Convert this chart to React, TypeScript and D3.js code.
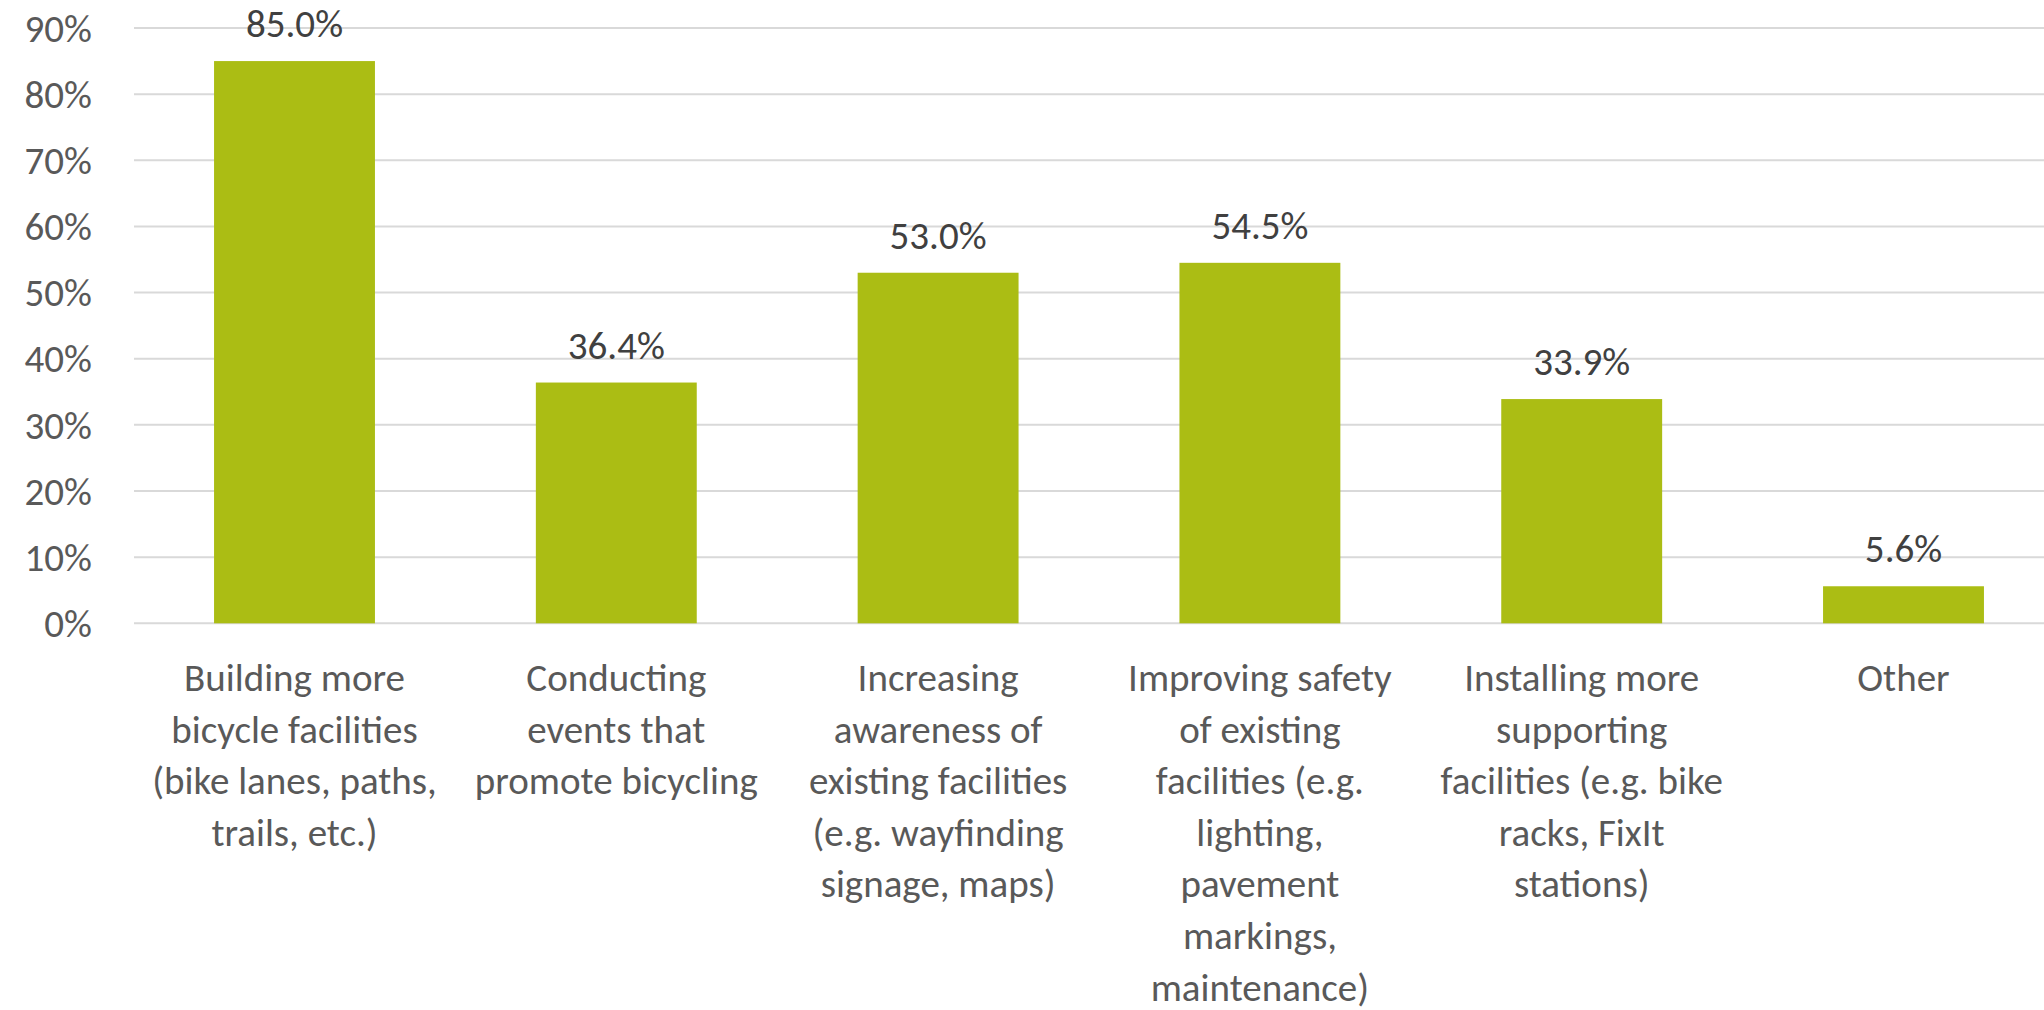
import React from "react";
import * as d3 from "d3";

const categories: string[][] = [
  ["Building more", "bicycle facilities", "(bike lanes, paths,", "trails, etc.)"],
  ["Conducting", "events that", "promote bicycling"],
  ["Increasing", "awareness of", "existing facilities", "(e.g. wayfinding", "signage, maps)"],
  ["Improving safety", "of existing", "facilities (e.g.", "lighting,", "pavement", "markings,", "maintenance)"],
  ["Installing more", "supporting", "facilities (e.g. bike", "racks, FixIt", "stations)"],
  ["Other"],
];
const values: number[] = [85.0, 36.4, 53.0, 54.5, 33.9, 5.6];
const yTicks: number[] = [0, 10, 20, 30, 40, 50, 60, 70, 80, 90];

const W = 2044;
const H = 1010;
const FONT = "Carlito, Calibri, Lato, 'Open Sans', sans-serif";

export default function App() {
  React.useEffect(() => {
    document.body.style.margin = "0";
  }, []);
  const keys = categories.map((_, i) => String(i));
  const x = d3.scaleBand<string>().domain(keys).range([133.6, 133.6 + 6 * 321.8]).paddingInner(0.5).paddingOuter(0.25);
  const y = d3.scaleLinear().domain([0, 90]).range([623.3, 28]);
  const fs = 39;
  const lh = 51.6;
  return (
    <svg width={W} height={H} style={{ display: "block", background: "#fff" }} fontFamily={FONT}>
      {yTicks.map((t) => (
        <g key={t}>
          <line x1={134} x2={W} y1={y(t)} y2={y(t)} stroke="#d9d9d9" strokeWidth={2} />
          <text x={92} y={y(t)} dy="0.35em" textAnchor="end" fontSize={fs} fill="#595959">
            {`${t}%`}
          </text>
        </g>
      ))}
      {values.map((v, i) => {
        const bx = x(String(i))!;
        const bw = x.bandwidth();
        return (
          <g key={i}>
            <rect x={bx} y={y(v)} width={bw} height={y(0) - y(v)} fill="#abbd14" />
            <text x={bx + bw / 2} y={y(v) - 24} textAnchor="middle" fontSize={fs} fill="#404040">
              {`${v.toFixed(1)}%`}
            </text>
          </g>
        );
      })}
      {categories.map((lines, i) => {
        const cx = x(String(i))! + x.bandwidth() / 2;
        return (
          <text key={i} x={cx} y={691} textAnchor="middle" fontSize={fs} fill="#595959">
            {lines.map((l, j) => (
              <tspan key={j} x={cx} y={691 + j * lh}>
                {l}
              </tspan>
            ))}
          </text>
        );
      })}
    </svg>
  );
}
